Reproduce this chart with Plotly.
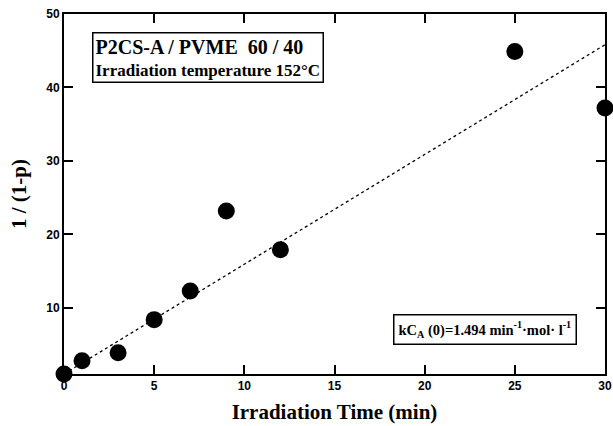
import plotly.graph_objects as go

# Measured conversion data
time_min = [0, 1, 3, 5, 7, 9, 12, 25, 30]
inv_one_minus_p = [1.0, 2.8, 3.9, 8.4, 12.3, 23.2, 17.9, 44.9, 37.2]

# Linear fit: 1/(1-p) = 1 + kCA(0) * t
rate_const = 1.494
intercept = 1.0
fit_t = [0, 30]
fit_y = [intercept + rate_const * t for t in fit_t]

serif = "Liberation Serif"
sans = "Liberation Sans"

fig = go.Figure()
fig.add_trace(go.Scatter(
    x=fit_t, y=fit_y, mode="lines",
    line=dict(color="black", width=1.3, dash="dot"),
    showlegend=False, hoverinfo="skip",
))
fig.add_trace(go.Scatter(
    x=time_min, y=inv_one_minus_p, mode="markers",
    marker=dict(color="black", size=17),
    cliponaxis=False, showlegend=False,
))

axis_common = dict(
    showgrid=False, zeroline=False, showline=True, linecolor="black",
    linewidth=1.8, mirror="ticks", ticks="inside", ticklen=9, tickwidth=1.8,
    tickcolor="black", automargin=False,
    tickfont=dict(family=sans, size=12, color="black", weight="bold"),
)

fig.update_xaxes(
    range=[0, 30], tickvals=[0, 5, 10, 15, 20, 25, 30],
    title=dict(text="Irradiation Time (min)", standoff=12,
               font=dict(family=serif, size=21, color="black", weight="bold")),
    **axis_common,
)
fig.update_yaxes(
    range=[1, 50], tickvals=[10, 20, 30, 40, 50],
    title=dict(text="1 / (1-p)", standoff=14,
               font=dict(family=serif, size=21, color="black", weight="bold")),
    **axis_common,
)

fig.add_annotation(
    x=1.53, y=47.6, xref="x", yref="y", xanchor="left", yanchor="top",
    align="left", showarrow=False,
    text="<b><span style='font-size:20px'>P2CS-A / PVME  60 / 40</span><br>"
         "<span style='font-size:17px'>Irradiation temperature 152°C</span></b>",
    font=dict(family=serif, size=17, color="black"),
    bordercolor="black", borderwidth=1.5, borderpad=2, bgcolor="white",
)
fig.add_annotation(
    x=18.24, y=9.2, xref="x", yref="y", xanchor="left", yanchor="top",
    showarrow=False,
    text=f"<b>kC<sub>A</sub> (0)={rate_const} min<sup>-1</sup>·mol· l<sup>-1</sup></b>",
    font=dict(family=serif, size=14.5, color="black"),
    bordercolor="black", borderwidth=1.5, borderpad=4, bgcolor="white",
)

fig.update_layout(
    width=613, height=426,
    margin=dict(l=64, r=8, t=14, b=52),
    plot_bgcolor="white", paper_bgcolor="white",
)

fig.write_html("out.html")
